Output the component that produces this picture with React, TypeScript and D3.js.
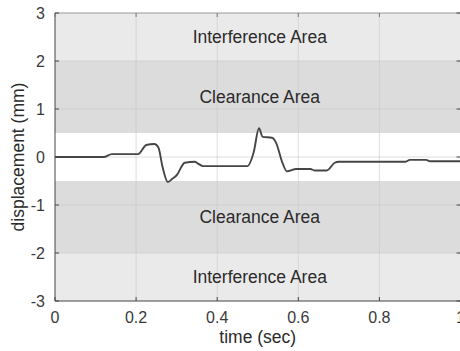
import { useMemo } from 'react'
import * as d3 from 'd3'

type Band = { from: number; to: number; kind: 'interference' | 'clearance' | 'free'; label: string }

const bands: Band[] = [
  { from: 2, to: 3, kind: 'interference', label: 'Interference Area' },
  { from: 0.5, to: 2, kind: 'clearance', label: 'Clearance Area' },
  { from: -0.5, to: 0.5, kind: 'free', label: '' },
  { from: -2, to: -0.5, kind: 'clearance', label: 'Clearance Area' },
  { from: -3, to: -2, kind: 'interference', label: 'Interference Area' },
]

const xTicks = [0, 0.2, 0.4, 0.6, 0.8, 1]
const yTicks = [-3, -2, -1, 0, 1, 2, 3]

const timeSec = [
  0, 0.12, 0.14, 0.205, 0.225, 0.245, 0.255, 0.265, 0.278, 0.29, 0.3, 0.32, 0.345, 0.355, 0.365, 0.475, 0.49,
  0.503, 0.512, 0.535, 0.545, 0.56, 0.572, 0.595, 0.63, 0.64, 0.67, 0.69, 0.7, 0.865, 0.875, 0.915, 0.925, 1,
]
const displacementMm = [
  0, 0, 0.06, 0.06, 0.25, 0.27, 0.2, -0.2, -0.52, -0.45, -0.38, -0.12, -0.1, -0.15, -0.19, -0.19, 0.1, 0.6,
  0.42, 0.4, 0.3, -0.1, -0.3, -0.25, -0.25, -0.28, -0.28, -0.12, -0.1, -0.1, -0.06, -0.06, -0.09, -0.09,
]

const width = 460
const height = 351
const margin = { top: 13, right: -0.5, bottom: 50, left: 55 }

const bandFill = { interference: '#eaeaea', clearance: '#dcdcdc', free: '#ffffff' }
const font = '"Liberation Sans", Arial, sans-serif'

export default function App() {
  const plot = useMemo(() => {
    const x = d3.scaleLinear().domain([0, 1]).range([margin.left, width - margin.right])
    const y = d3.scaleLinear().domain([-3, 3]).range([height - margin.bottom, margin.top])
    const points = timeSec.map((t, i) => [t, displacementMm[i]] as [number, number])
    const path = d3
      .line<[number, number]>()
      .x((d) => x(d[0]))
      .y((d) => y(d[1]))
      .curve(d3.curveMonotoneX)(points)
    return { x, y, path: path ?? '' }
  }, [])

  const { x, y } = plot
  const x0 = x(0)
  const x1 = x(1)
  const y0 = y(-3)
  const y1 = y(3)

  return (
    <svg
      width={width}
      height={height}
      style={{ position: 'fixed', left: 0, top: 0, background: '#fff' }}
      fontFamily={font}
    >
      {bands.map((b) => (
        <rect key={`${b.from}`} x={x0} y={y(b.to)} width={x1 - x0} height={y(b.from) - y(b.to)} fill={bandFill[b.kind]} />
      ))}

      {/* grid */}
      {xTicks.slice(1, -1).map((t) => (
        <line key={`gx${t}`} x1={x(t)} x2={x(t)} y1={y1} y2={y0} stroke="#c8c8c8" strokeOpacity={0.6} />
      ))}
      {yTicks.slice(1, -1).map((t) => (
        <line key={`gy${t}`} x1={x0} x2={x1} y1={y(t)} y2={y(t)} stroke="#c8c8c8" strokeOpacity={0.6} />
      ))}

      {bands
        .filter((b) => b.label)
        .map((b) => (
          <text
            key={`l${b.from}`}
            x={x(0.505)}
            y={y((b.from + b.to) / 2)}
            dy="0.35em"
            textAnchor="middle"
            fontSize={17.5}
            fill="#2a2a2a"
          >
            {b.label}
          </text>
        ))}

      <path d={plot.path} fill="none" stroke="#454545" strokeWidth={1.9} />

      {/* box */}
      <line x1={x0} x2={x1} y1={y1} y2={y1} stroke="#9a9a9a" />
      <line x1={x0} x2={x1} y1={y0} y2={y0} stroke="#444" />
      <line x1={x0} x2={x0} y1={y1} y2={y0} stroke="#444" />
      <line x1={x1} x2={x1} y1={y1} y2={y0} stroke="#444" />

      {xTicks.map((t) => (
        <g key={`tx${t}`}>
          <line x1={x(t)} x2={x(t)} y1={y0} y2={y0 - 4} stroke="#444" />
          <line x1={x(t)} x2={x(t)} y1={y1} y2={y1 + 4} stroke="#777" />
          <text x={x(t)} y={y0 + 22} textAnchor="middle" fontSize={16} fill="#3a3a3a">
            {d3.format('~g')(t)}
          </text>
        </g>
      ))}
      {yTicks.map((t) => (
        <g key={`ty${t}`}>
          <line x1={x0} x2={x0 + 4} y1={y(t)} y2={y(t)} stroke="#444" />
          <line x1={x1} x2={x1 - 4} y1={y(t)} y2={y(t)} stroke="#444" />
          <text x={x0 - 10} y={y(t)} dy="0.35em" textAnchor="end" fontSize={16} fill="#3a3a3a">
            {t}
          </text>
        </g>
      ))}

      <text x={x(0.5)} y={height - 8} textAnchor="middle" fontSize={17.5} fill="#2a2a2a">
        time (sec)
      </text>
      <text
        transform={`translate(24 ${y(0)}) rotate(-90)`}
        textAnchor="middle"
        fontSize={17.5}
        fill="#2a2a2a"
      >
        displacement (mm)
      </text>
    </svg>
  )
}
